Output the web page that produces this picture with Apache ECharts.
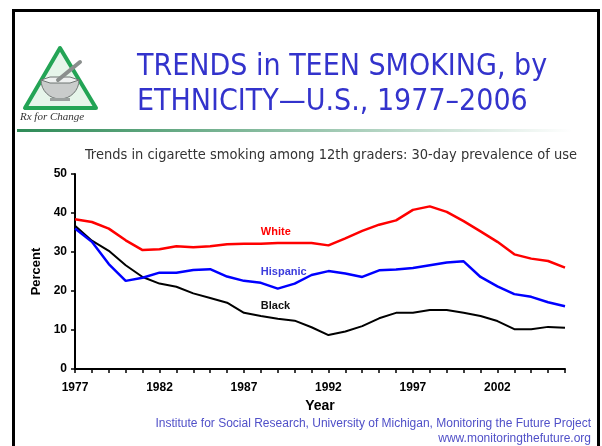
<!DOCTYPE html>
<html>
<head>
<meta charset="utf-8">
<script src="https://cdn.jsdelivr.net/npm/echarts@6/dist/echarts.min.js"></script>
<style>
  html, body { margin: 0; padding: 0; background: #fff; }
  #chart { width: 602px; height: 446px; }
</style>
</head>
<body>
<div id="chart"></div>
<script>
// 12th graders, 30-day prevalence of cigarette use, by ethnicity
var years = [];
for (var y = 1977; y <= 2006; y++) years.push(String(y));

var white = [38.4, 37.7, 36.0, 33.0, 30.5, 30.7, 31.5, 31.2, 31.5, 32.0,
             32.1, 32.1, 32.3, 32.3, 32.3, 31.7, 33.5, 35.4, 37.0, 38.1,
             40.8, 41.7, 40.3, 37.9, 35.3, 32.6, 29.4, 28.3, 27.7, 26.0];
var hispanic = [36.0, 32.6, 26.9, 22.6, 23.4, 24.7, 24.7, 25.4, 25.6, 23.7,
                22.6, 22.1, 20.6, 21.9, 24.1, 25.1, 24.5, 23.6, 25.3, 25.5,
                25.9, 26.6, 27.3, 27.6, 23.6, 21.2, 19.2, 18.5, 17.1, 16.1];
var black = [36.7, 32.9, 30.3, 26.6, 23.6, 21.9, 21.1, 19.4, 18.2, 17.0,
             14.4, 13.6, 12.9, 12.4, 10.7, 8.7, 9.6, 11.0, 13.0, 14.4,
             14.4, 15.1, 15.1, 14.4, 13.6, 12.3, 10.2, 10.2, 10.8, 10.6];

var yTicks = [0, 10, 20, 30, 40, 50];

var sans = "'Liberation Sans', Arial, sans-serif";
var tahoma = "'DejaVu Sans Condensed', 'DejaVu Sans', sans-serif";

var chart = echarts.init(document.getElementById('chart'), null, { renderer: 'canvas' });

function seriesLabel(text, year, value, color) {
  return {
    symbol: 'rect',
    symbolSize: 0,
    silent: true,
    data: [{
      coord: [year, value],
      label: {
        show: true,
        position: 'right',
        distance: 0,
        formatter: text,
        color: color,
        fontFamily: sans,
        fontWeight: 'bold',
        fontSize: 11
      }
    }]
  };
}

chart.setOption({
  animation: false,
  backgroundColor: '#fff',
  title: [
    {
      text: 'TRENDS in TEEN SMOKING, by\nETHNICITY\u2014U.S., 1977\u20132006',
      left: 132,
      top: 45,
      textStyle: {
        fontFamily: tahoma,
        fontSize: 30,
        fontWeight: 'normal',
        color: '#3333CC',
        lineHeight: 35
      }
    },
    {
      text: 'Trends in cigarette smoking among 12th graders: 30-day prevalence of use',
      left: 80,
      top: 143,
      textStyle: {
        fontFamily: tahoma,
        fontSize: 14.5,
        fontWeight: 'normal',
        color: '#333'
      }
    }
  ],
  grid: { left: 75, right: 37, top: 174, bottom: 77 },
  xAxis: {
    type: 'category',
    data: years,
    boundaryGap: false,
    name: 'Year',
    nameLocation: 'middle',
    nameGap: 30,
    nameTextStyle: { fontFamily: sans, fontWeight: 'bold', fontSize: 14, color: '#000' },
    axisLine: { lineStyle: { color: '#000', width: 2 } },
    axisTick: { show: true, interval: 0, length: 4, lineStyle: { color: '#000', width: 1.5 } },
    axisLabel: {
      interval: 4,
      margin: 13,
      fontFamily: sans,
      fontWeight: 'bold',
      fontSize: 12,
      color: '#000'
    },
    splitLine: { show: false }
  },
  yAxis: {
    type: 'value',
    min: 0,
    max: 50,
    interval: 10,
    name: 'Percent',
    nameLocation: 'middle',
    nameRotate: 90,
    nameGap: 30,
    nameTextStyle: { fontFamily: sans, fontWeight: 'bold', fontSize: 13, color: '#000' },
    axisLine: { show: true, lineStyle: { color: '#000', width: 2 } },
    axisTick: { show: true, length: 4, lineStyle: { color: '#000', width: 1.5 } },
    axisLabel: {
      margin: 8,
      fontFamily: sans,
      fontWeight: 'bold',
      fontSize: 12,
      color: '#000',
      formatter: function (v) { return yTicks.indexOf(v) >= 0 ? String(v) : ''; }
    },
    splitLine: { show: false }
  },
  series: [
    {
      name: 'White',
      type: 'line',
      data: white,
      symbol: 'none',
      lineStyle: { color: '#FF0000', width: 2.5 },
      itemStyle: { color: '#FF0000' },
      markPoint: seriesLabel('White', '1988', 35.1, '#FF0000'),
      z: 3
    },
    {
      name: 'Hispanic',
      type: 'line',
      data: hispanic,
      symbol: 'none',
      lineStyle: { color: '#0000FF', width: 2.5 },
      itemStyle: { color: '#0000FF' },
      markPoint: seriesLabel('Hispanic', '1988', 25.0, '#3C3CDC'),
      z: 2
    },
    {
      name: 'Black',
      type: 'line',
      data: black,
      symbol: 'none',
      lineStyle: { color: '#000000', width: 2 },
      itemStyle: { color: '#000' },
      markPoint: seriesLabel('Black', '1988', 16.1, '#111'),
      z: 1
    }
  ],
  graphic: [
    // slide frame
    {
      type: 'rect',
      shape: { x: 13.5, y: 10.5, width: 585, height: 460 },
      style: { fill: 'none', stroke: '#000', lineWidth: 3 },
      silent: true
    },
    // gradient rule under title
    {
      type: 'rect',
      shape: { x: 17, y: 129, width: 555, height: 3 },
      style: {
        fill: new echarts.graphic.LinearGradient(0, 0, 1, 0, [
          { offset: 0, color: '#2E8B57' },
          { offset: 0.55, color: '#9CC7B0' },
          { offset: 1, color: '#FFFFFF' }
        ])
      },
      silent: true
    },
    // logo: triangle
    {
      type: 'polygon',
      shape: { points: [[60, 48], [25, 108], [96, 108]] },
      style: { fill: '#E6F5EA', stroke: '#23A455', lineWidth: 4, lineJoin: 'round' },
      silent: true
    },
    // logo: mortar bowl
    {
      type: 'sector',
      shape: { cx: 60, cy: 80, r0: 0, r: 19, startAngle: 0, endAngle: Math.PI, clockwise: true },
      style: { fill: '#C9CCCB', stroke: '#6F7573', lineWidth: 1 },
      silent: true
    },
    {
      type: 'polygon',
      shape: { points: [[41, 80], [50, 77], [70, 77], [79, 80], [70, 83], [50, 83]] },
      style: { fill: '#EEF1F0', stroke: '#6F7573', lineWidth: 1 },
      silent: true
    },
    // logo: pestle
    {
      type: 'line',
      shape: { x1: 58, y1: 80, x2: 80, y2: 62 },
      style: { stroke: '#8A8F8D', lineWidth: 4, lineCap: 'round' },
      silent: true
    },
    {
      type: 'rect',
      shape: { x: 50, y: 98, width: 20, height: 3 },
      style: { fill: '#9AA09E' },
      silent: true
    },
    {
      type: 'text',
      left: 20,
      top: 112,
      style: {
        text: 'Rx for Change',
        fontFamily: "'Liberation Serif', serif",
        fontStyle: 'italic',
        fontSize: 11,
        fill: '#333'
      },
      silent: true
    },
    // source lines
    {
      type: 'text',
      right: 11,
      top: 418,
      style: {
        text: 'Institute for Social Research, University of Michigan, Monitoring the Future Project',
        fontFamily: sans,
        fontSize: 12,
        fill: '#5050C8',
        textAlign: 'right'
      },
      silent: true
    },
    {
      type: 'text',
      right: 11,
      top: 433,
      style: {
        text: 'www.monitoringthefuture.org',
        fontFamily: sans,
        fontSize: 12,
        fill: '#5050C8',
        textAlign: 'right'
      },
      silent: true
    }
  ]
});

window.addEventListener('resize', function () { chart.resize(); });
</script>
</body>
</html>
